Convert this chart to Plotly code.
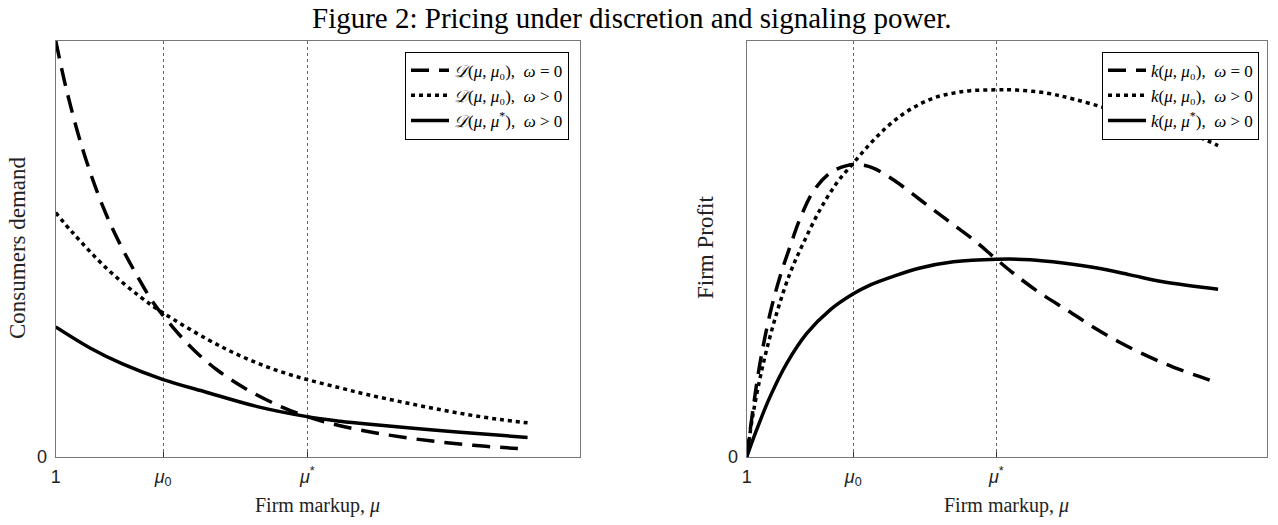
import plotly.graph_objects as go

# ---------------- data ----------------
MU0 = 1.41
MUSTAR = 1.96
X_RANGE = [1, 3]
tick_vals = [1, MU0, MUSTAR]
tick_text = ["1", "<i>μ</i><sub>0</sub>", "<i>μ</i><sup>*</sup>"]

# Left panel: consumers demand
dem_dash_x = [1.0, 1.042, 1.105, 1.181, 1.245, 1.309, 1.371, 1.448, 1.524, 1.616, 1.730, 1.856, 1.959, 2.085, 2.211, 2.341, 2.467, 2.593, 2.723, 2.80]
dem_dash_y = [1.0, 0.880, 0.735, 0.600, 0.512, 0.437, 0.372, 0.311, 0.259, 0.209, 0.162, 0.122, 0.097, 0.075, 0.059, 0.046, 0.036, 0.028, 0.022, 0.019]

dem_dot_x = [1.0, 1.066, 1.196, 1.322, 1.410, 1.578, 1.704, 1.830, 1.959, 2.085, 2.188, 2.314, 2.440, 2.570, 2.696, 2.80]
dem_dot_y = [0.587, 0.538, 0.452, 0.385, 0.346, 0.283, 0.243, 0.211, 0.186, 0.166, 0.150, 0.133, 0.117, 0.102, 0.090, 0.082]

dem_solid_x = [1.0, 1.131, 1.257, 1.410, 1.578, 1.769, 1.959, 2.085, 2.188, 2.440, 2.696, 2.80]
dem_solid_y = [0.3125, 0.262, 0.223, 0.186, 0.155, 0.121, 0.097, 0.086, 0.079, 0.065, 0.052, 0.047]

# Right panel: firm profit
pro_dash_x = [1.0, 1.025, 1.051, 1.090, 1.128, 1.167, 1.205, 1.256, 1.320, 1.385, 1.436, 1.487, 1.564, 1.667, 1.769, 1.872, 1.962, 2.024, 2.128, 2.232, 2.332, 2.436, 2.540, 2.640, 2.743, 2.813]
pro_dash_y = [0.0, 0.118, 0.225, 0.345, 0.433, 0.506, 0.572, 0.638, 0.682, 0.700, 0.702, 0.694, 0.666, 0.618, 0.570, 0.522, 0.474, 0.442, 0.394, 0.353, 0.3125, 0.275, 0.243, 0.216, 0.193, 0.178]

pro_dot_x = [1.0, 1.025, 1.064, 1.115, 1.167, 1.218, 1.282, 1.346, 1.410, 1.474, 1.538, 1.602, 1.667, 1.731, 1.795, 1.859, 1.962, 2.024, 2.155, 2.255, 2.409, 2.601, 2.732, 2.813]
pro_dot_y = [0.0, 0.105, 0.225, 0.345, 0.442, 0.514, 0.594, 0.658, 0.706, 0.752, 0.792, 0.824, 0.848, 0.865, 0.874, 0.880, 0.882, 0.882, 0.874, 0.860, 0.833, 0.796, 0.770, 0.748]

pro_solid_x = [1.0, 1.038, 1.090, 1.154, 1.231, 1.320, 1.410, 1.474, 1.564, 1.667, 1.795, 1.962, 2.090, 2.217, 2.348, 2.475, 2.601, 2.813]
pro_solid_y = [0.0, 0.065, 0.145, 0.225, 0.297, 0.353, 0.392, 0.413, 0.434, 0.454, 0.469, 0.475, 0.474, 0.466, 0.454, 0.4375, 0.421, 0.403]

SP = "&nbsp;"
left_names = [
    f"<i>𝒟</i>(<i>μ</i>,{SP}<i>μ</i>₀),{SP}{SP}<i>ω</i>{SP}={SP}0",
    f"<i>𝒟</i>(<i>μ</i>,{SP}<i>μ</i>₀),{SP}{SP}<i>ω</i>{SP}>{SP}0",
    f"<i>𝒟</i>(<i>μ</i>,{SP}<i>μ</i><sup>*</sup>),{SP}{SP}<i>ω</i>{SP}>{SP}0",
]
right_names = [
    f"<i>k</i>(<i>μ</i>,{SP}<i>μ</i>₀),{SP}{SP}<i>ω</i>{SP}={SP}0",
    f"<i>k</i>(<i>μ</i>,{SP}<i>μ</i>₀),{SP}{SP}<i>ω</i>{SP}>{SP}0",
    f"<i>k</i>(<i>μ</i>,{SP}<i>μ</i><sup>*</sup>),{SP}{SP}<i>ω</i>{SP}>{SP}0",
]

# ---------------- styling ----------------
SERIF = "Liberation Serif, DejaVu Serif, serif"
SANS = "Liberation Sans, Arial, sans-serif"
LW = 3.5
DASH = "18px,10px"
DOT = "4px,4px"

W, H = 1278, 525
L_X0, L_X1 = 55.7, 580
R_X0, R_X1 = 746.7, 1266.7
Y_TOP, Y_BOT = 40.7, 457

fig = go.Figure()

def add(x, y, name, dash, xa, ya, legend):
    fig.add_trace(go.Scatter(
        x=x, y=y, name=name, mode="lines", line_shape="spline",
        line=dict(color="black", width=LW, dash=dash),
        xaxis=xa, yaxis=ya, legend=legend,
    ))

add(dem_dash_x, dem_dash_y, left_names[0], DASH, "x", "y", "legend")
add(dem_dot_x, dem_dot_y, left_names[1], DOT, "x", "y", "legend")
add(dem_solid_x, dem_solid_y, left_names[2], "solid", "x", "y", "legend")
add(pro_dash_x, pro_dash_y, right_names[0], DASH, "x2", "y2", "legend2")
add(pro_dot_x, pro_dot_y, right_names[1], DOT, "x2", "y2", "legend2")
add(pro_solid_x, pro_solid_y, right_names[2], "solid", "x2", "y2", "legend2")

ydom = [1 - Y_BOT / H, 1 - Y_TOP / H]

xcommon = dict(
    range=X_RANGE, tickvals=tick_vals, ticktext=tick_text,
    showgrid=True, gridcolor="#666666", griddash="dot", gridwidth=1,
    zeroline=False, showline=True, mirror=True, linecolor="#777777", linewidth=1.2,
    ticks="inside", ticklen=5, tickcolor="#333333",
    tickfont=dict(family=SANS, size=18, color="#222222"),
    ticklabelstandoff=3, automargin=False,
)
ycommon = dict(
    range=[0, 1], tickvals=[0], ticktext=["0"],
    showgrid=False, zeroline=False, showline=True, mirror=True,
    linecolor="#777777", linewidth=1.2, ticks="",
    tickfont=dict(family=SANS, size=18, color="#222222"),
    ticklabelstandoff=4, automargin=False,
)

legend_common = dict(
    bgcolor="white", bordercolor="black", borderwidth=1,
    font=dict(family=SERIF, size=17, color="black"),
    xanchor="right", yanchor="top", yref="paper", xref="paper",
    itemwidth=38, tracegroupgap=0,
)

fig.update_layout(
    template="none",
    width=W, height=H,
    margin=dict(l=0, r=0, t=0, b=0, pad=0, autoexpand=False),
    paper_bgcolor="white", plot_bgcolor="white",
    showlegend=True,
    xaxis=dict(domain=[L_X0 / W, L_X1 / W], anchor="y", **xcommon),
    yaxis=dict(domain=ydom, anchor="x", **ycommon),
    xaxis2=dict(domain=[R_X0 / W, R_X1 / W], anchor="y2", **xcommon),
    yaxis2=dict(domain=ydom, anchor="x2", **ycommon),
    legend=dict(x=569 / W, y=1 - 51.7 / H, **legend_common),
    legend2=dict(x=1259 / W, y=1 - 51.7 / H, **legend_common),
    annotations=[
        dict(text="Figure 2: Pricing under discretion and signaling power.",
             x=632 / W, y=1 - 18 / H, xref="paper", yref="paper",
             xanchor="center", yanchor="middle",
             showarrow=False, font=dict(family=SERIF, size=29, color="black")),
        dict(text="Firm markup, <i>μ</i>", x=(L_X0 + L_X1) / 2 / W, y=1 - 505 / H,
             xref="paper", yref="paper", xanchor="center", yanchor="middle",
             showarrow=False, font=dict(family=SERIF, size=20, color="#222222")),
        dict(text="Firm markup, <i>μ</i>", x=(R_X0 + R_X1) / 2 / W, y=1 - 505 / H,
             xref="paper", yref="paper", xanchor="center", yanchor="middle",
             showarrow=False, font=dict(family=SERIF, size=20, color="#222222")),
        dict(text="Consumers demand", x=18 / W, y=1 - 248 / H, textangle=-90,
             xref="paper", yref="paper", xanchor="center", yanchor="middle",
             showarrow=False, font=dict(family=SERIF, size=23, color="#222222")),
        dict(text="Firm Profit", x=706 / W, y=1 - 248 / H, textangle=-90,
             xref="paper", yref="paper", xanchor="center", yanchor="middle",
             showarrow=False, font=dict(family=SERIF, size=23, color="#222222")),
    ],
)

fig.write_html(
    "out.html",
    config={"displayModeBar": False},
    post_script="document.body.style.margin='0';document.body.style.overflow='hidden';",
)
